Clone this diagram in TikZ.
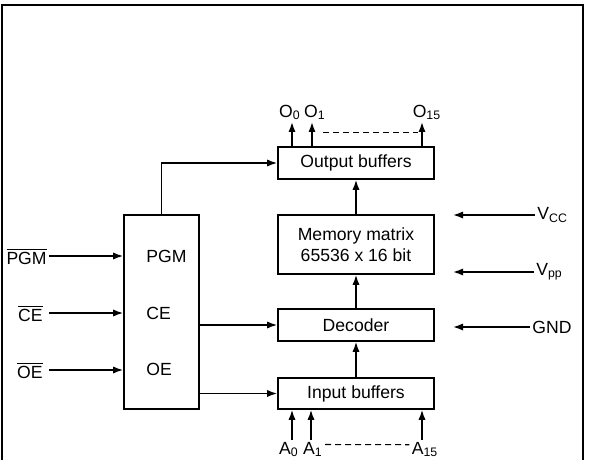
\documentclass[tikz,border=0pt]{standalone}
\usepackage{fontspec}
\setmainfont{Liberation Sans}
\usetikzlibrary{arrows.meta,positioning,calc}
\tikzset{
  bloco/.style={rectangle, draw, line width=0.85pt, minimum width=78pt,
                minimum height=16pt, inner sep=0pt, align=center,
                font=\fontsize{8.8}{10.6}\selectfont},
  rotulo/.style={inner sep=1pt, font=\fontsize{8.8}{10}\selectfont},
  seta/.style={-{Latex[length=5pt,width=3.6pt]}, line width=0.75pt},
  tracejado/.style={line width=0.6pt, dash pattern=on 3pt off 2pt},
}

\begin{document}
\begin{tikzpicture}[x=0.5pt,y=-0.5pt]
  \useasboundingbox (0,0) rectangle (589,460);
  % moldura aberta embaixo
  \draw[line width=1.2pt] (2,460) -- (2,5) -- (583,5) -- (583,460);

  % blocos
  \node[bloco] (ob) at (356,163) {Output buffers};
  \node[bloco, minimum height=29.5pt] (mm) at (356,244.5) {Memory matrix\\65536 x 16 bit};
  \node[bloco] (dec) at (356,325) {Decoder};
  \node[bloco, minimum height=15.5pt] (ib) at (356,393.5) {Input buffers};
  \node[bloco, minimum width=37.5pt, minimum height=97pt] (ctl) at (161.5,312) {};
  \node[rotulo, anchor=west] (pgm) at (144,256) {PGM};
  \node[rotulo, anchor=west] (ce) at (144,313) {CE};
  \node[rotulo, anchor=west] (oe) at (144,369) {OE};

  % entradas de controle
  \node[rotulo, anchor=east] (pgmn) at (49,256) {$\overline{\mbox{PGM}}$};
  \node[rotulo, anchor=east] (cen) at (45,313) {$\overline{\mbox{CE}}$};
  \node[rotulo, anchor=east] (oen) at (45,370) {$\overline{\mbox{OE}}$};
  \draw[seta] (pgmn.east) -- (pgmn.east -| ctl.west);
  \draw[seta, shorten <=2pt] (cen.east) -- (cen.east -| ctl.west);
  \draw[seta, shorten <=2pt] (oen.east) -- (oen.east -| ctl.west);

  \draw[seta] (ctl.north) |- (ob.west);
  \draw[seta] (ctl.east |- dec.west) -- (dec.west);
  \draw[seta] (ctl.east |- ib.west) -- (ib.west);

  \draw[seta] (mm.north) -- (ob.south);
  \draw[seta] (dec.north) -- (mm.south);
  \draw[seta] (ib.north) -- (dec.south);

  % saidas
  \node[rotulo, anchor=south] (o0) at (290,122) {O\textsubscript{0}};
  \node[rotulo, anchor=south] (o1) at (315,122) {O\textsubscript{1}};
  \node[rotulo, anchor=south] (o15) at (427,122) {O\textsubscript{15}};
  \draw[seta] ([xshift=1pt]o0.south |- ob.north) -- ([xshift=1pt]o0.south);
  \draw[seta] ([xshift=-1.5pt]o1.south |- ob.north) -- ([xshift=-1.5pt]o1.south);
  \draw[seta] ([xshift=-2.5pt]o15.south |- ob.north) -- ([xshift=-2.5pt]o15.south);
  \draw[tracejado] ($(o1.south |- ob.north)+(8,-14)$) -- ($(o15.south |- ob.north)+(-9,-14)$);

  % enderecos
  \node[rotulo, anchor=north] (a0) at (289,440) {A\textsubscript{0}};
  \node[rotulo, anchor=north] (a1) at (313,440) {A\textsubscript{1}};
  \node[rotulo, anchor=north] (a15) at (425,440) {A\textsubscript{15}};
  \draw[seta] ([xshift=1.5pt]a0.north) -- ([xshift=1.5pt]a0.north |- ib.south);
  \draw[seta] ([xshift=-1pt]a1.north) -- ([xshift=-1pt]a1.north |- ib.south);
  \draw[seta] ([xshift=-1.5pt]a15.north) -- ([xshift=-1.5pt]a15.north |- ib.south);
  \draw[tracejado] ([yshift=2.5pt]a1.east) -- ([yshift=2.5pt]a15.west);

  % alimentacao
  \coordinate (alim) at (453,0);
  \node[rotulo, anchor=west] (vcc) at (535,215) {V\textsubscript{CC}};
  \node[rotulo, anchor=west] (vpp) at (534,272) {V\textsubscript{pp}};
  \node[rotulo, anchor=west] (gnd) at (530,327) {GND};
  \draw[seta] (vcc.west) -- (vcc.west -| alim);
  \draw[seta] (vpp.west) -- (vpp.west -| alim);
  \draw[seta] (gnd.west) -- (gnd.west -| alim);
\end{tikzpicture}
\end{document}
